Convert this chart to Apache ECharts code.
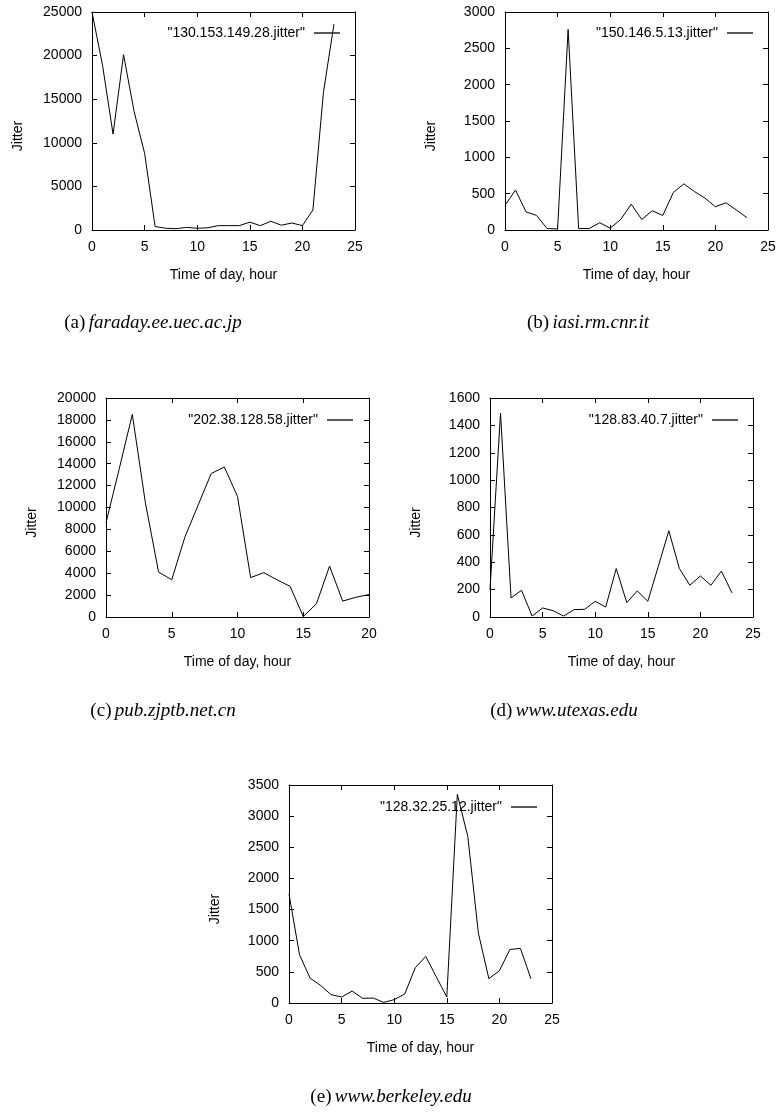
<!DOCTYPE html>
<html>
<head>
<meta charset="utf-8">
<script src="https://cdn.jsdelivr.net/npm/echarts@6/dist/echarts.min.js"></script>
<style>
  html, body { margin: 0; padding: 0; background: #fff; }
  #chart { width: 780px; height: 1112px; }
</style>
</head>
<body>
<div id="chart"></div>
<script>
// Hourly jitter measured towards five hosts
const hours24 = [0,1,2,3,4,5,6,7,8,9,10,11,12,13,14,15,16,17,18,19,20,21,22,23];
const hours21 = [0,1,2,3,4,5,6,7,8,9,10,11,12,13,14,15,16,17,18,19,20];

const jitterFaraday = [25000,18900,11000,20100,13600,8800,400,200,150,300,200,250,500,500,500,900,500,1000,550,800,500,2300,15800,23600];
const jitterIasi = [340,550,250,200,20,15,2760,20,20,100,25,145,355,145,265,200,515,635,530,440,320,375,275,170];
const jitterZjptb = [8600,13500,18500,10400,4100,3400,7300,10200,13100,13700,11000,3600,4050,3400,2800,50,1200,4650,1450,1800,2050];
const jitterUtexas = [200,1490,140,195,7,66,46,7,54,56,115,73,354,105,190,115,370,630,354,232,300,232,335,176];
const jitterBerkeley = [1750,775,400,283,134,96,192,75,80,10,53,144,566,748,420,96,3350,2672,1122,390,518,860,876,390];

const seriesNames = ['"130.153.149.28.jitter"', '"150.146.5.13.jitter"', '"202.38.128.58.jitter"', '"128.83.40.7.jitter"', '"128.32.25.12.jitter"'];
const captionTags = ['(a)', '(b)', '(c)', '(d)', '(e)'];
const captionHosts = ['faraday.ee.uec.ac.jp', 'iasi.rm.cnr.it', 'pub.zjptb.net.cn', 'www.utexas.edu', 'www.berkeley.edu'];

const xMax = [25, 25, 20, 25, 25];
const xStep = [5, 5, 5, 5, 5];
const yMax = [25000, 3000, 20000, 1600, 3500];
const yStep = [5000, 500, 2000, 200, 500];

const xTitle = 'Time of day, hour';
const yTitle = 'Jitter';

const panels = [
  { hours: hours24, values: jitterFaraday },
  { hours: hours24, values: jitterIasi },
  { hours: hours21, values: jitterZjptb },
  { hours: hours24, values: jitterUtexas },
  { hours: hours24, values: jitterBerkeley }
];

// Layout of the five plot boxes (pixels)
const boxes = [
  { left: 92,  top: 12,  width: 263, height: 218 },
  { left: 505, top: 12,  width: 263, height: 218 },
  { left: 106, top: 398, width: 263, height: 219 },
  { left: 490, top: 398, width: 263, height: 219 },
  { left: 289, top: 785, width: 263, height: 218 }
];
const legendPos = [
  { right: 440, top: 26 },
  { right: 27,  top: 26 },
  { right: 427, top: 413 },
  { right: 42,  top: 413 },
  { right: 243, top: 800 }
];
const captionPos = [
  { x: 153, y: 323 },
  { x: 588, y: 323 },
  { x: 163, y: 711 },
  { x: 564, y: 711 },
  { x: 391, y: 1097 }
];

const FONT = 'Liberation Sans, Arial, sans-serif';
const FS = 14;
const INK = '#000';
const plain = v => String(v);

const grid = [], xAxis = [], yAxis = [], series = [], legend = [], graphic = [];

panels.forEach((p, i) => {
  const b = boxes[i];
  grid.push({ left: b.left, top: b.top, width: b.width, height: b.height, containLabel: false });

  const tick = { show: true, inside: true, length: 5, lineStyle: { color: INK, width: 1 } };
  const line = { show: true, onZero: false, lineStyle: { color: INK, width: 1 } };

  // bottom x axis with labels, top x axis as mirrored ticks
  xAxis.push({
    type: 'value', gridIndex: i, position: 'bottom', min: 0, max: xMax[i], interval: xStep[i],
    axisLine: line, axisTick: tick, splitLine: { show: false },
    axisLabel: { color: INK, fontFamily: FONT, fontSize: FS, margin: 10, formatter: plain },
    name: xTitle, nameLocation: 'middle', nameGap: 38,
    nameTextStyle: { color: INK, fontFamily: FONT, fontSize: FS }
  });
  xAxis.push({
    type: 'value', gridIndex: i, position: 'top', min: 0, max: xMax[i], interval: xStep[i],
    axisLine: line, axisTick: tick, splitLine: { show: false }, axisLabel: { show: false }
  });
  // left y axis with labels, right y axis as mirrored ticks
  yAxis.push({
    type: 'value', gridIndex: i, position: 'left', min: 0, max: yMax[i], interval: yStep[i],
    axisLine: line, axisTick: tick, splitLine: { show: false },
    axisLabel: { color: INK, fontFamily: FONT, fontSize: FS, margin: 10, formatter: plain }
  });
  yAxis.push({
    type: 'value', gridIndex: i, position: 'right', min: 0, max: yMax[i], interval: yStep[i],
    axisLine: line, axisTick: tick, splitLine: { show: false }, axisLabel: { show: false }
  });

  series.push({
    name: seriesNames[i], type: 'line', xAxisIndex: 2 * i, yAxisIndex: 2 * i,
    data: p.hours.map((h, k) => [h, p.values[k]]),
    symbol: 'none', showSymbol: false,
    lineStyle: { color: INK, width: 1 }, itemStyle: { color: INK },
    animation: false, silent: true
  });

  legend.push({
    data: [seriesNames[i]], right: legendPos[i].right, top: legendPos[i].top,
    align: 'right', padding: 0, icon: 'rect', itemWidth: 26, itemHeight: 1.3,
    selectedMode: false,
    textStyle: { color: INK, fontFamily: FONT, fontSize: FS, padding: [0, 4, 0, 0] }
  });

  // rotated y axis title
  graphic.push({
    type: 'text', x: b.left - 74, y: b.top + b.height / 2 + 15, rotation: Math.PI / 2,
    style: { text: yTitle, fill: INK, font: FS + 'px ' + FONT, align: 'center', verticalAlign: 'middle' }
  });

  // sub-figure caption
  graphic.push({
    type: 'text', x: captionPos[i].x, y: captionPos[i].y,
    style: {
      text: '{t|' + captionTags[i] + '} {h|' + captionHosts[i] + '}',
      align: 'center', verticalAlign: 'middle',
      rich: {
        t: { fontFamily: 'Liberation Serif, serif', fontSize: 19, fill: INK },
        h: { fontFamily: 'Liberation Serif, serif', fontStyle: 'italic', fontSize: 19, fill: INK }
      }
    }
  });
});

const chart = echarts.init(document.getElementById('chart'), null, { renderer: 'canvas' });
chart.setOption({
  backgroundColor: '#fff',
  animation: false,
  grid, xAxis, yAxis, series, legend, graphic
});
</script>
</body>
</html>
